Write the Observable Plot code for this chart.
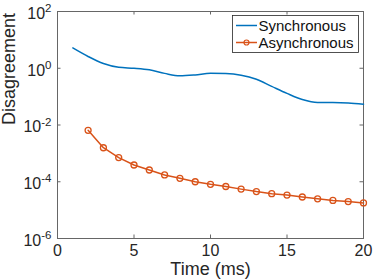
<!DOCTYPE html>
<html>
<head>
<meta charset="utf-8">
<script src="https://cdn.jsdelivr.net/npm/d3@7"></script>
<script src="https://cdn.jsdelivr.net/npm/@observablehq/plot@0.6"></script>
<style>
  html, body { margin: 0; padding: 0; background: #fff; }
  #wrap { position: relative; width: 374px; height: 280px; font-family: "Liberation Sans", Arial, Helvetica, sans-serif; }
  #legend { position: absolute; left: 0; top: 0; }
</style>
</head>
<body>
<div id="wrap"></div>
<script>
// ---- data ----
const timeSync = [1, 2, 3, 4, 5, 6, 7, 8, 9, 10, 11, 12, 13, 14, 15, 16, 17, 18, 19, 20];
const synchronous = [5.2, 2.6, 1.47, 1.08, 1.0, 0.88, 0.66, 0.54, 0.58, 0.66, 0.65, 0.57, 0.41, 0.23, 0.13, 0.079, 0.062, 0.062, 0.06, 0.054];
const timeAsync = [2, 3, 4, 5, 6, 7, 8, 9, 10, 11, 12, 13, 14, 15, 16, 17, 18, 19, 20];
const asynchronous = [6.5e-3, 1.58e-3, 7.1e-4, 3.9e-4, 2.6e-4, 1.74e-4, 1.32e-4, 1.0e-4, 8.1e-5, 6.8e-5, 5.5e-5, 4.5e-5, 3.8e-5, 3.4e-5, 2.9e-5, 2.5e-5, 2.2e-5, 2.0e-5, 1.8e-5];
const xTicks = [0, 5, 10, 15, 20];
const yTicks = [1e-6, 1e-4, 1e-2, 1e0, 1e2];
const seriesNames = ["Synchronous", "Asynchronous"];
const xLabel = "Time (ms)";
const yLabel = "Disagreement";

const syncData = timeSync.map((t, i) => ({t, v: synchronous[i]}));
const asyncData = timeAsync.map((t, i) => ({t, v: asynchronous[i]}));

const W = 374, H = 280;
const mL = 57, mR = 11, mT = 11, mB = 42;
const pw = W - mL - mR, ph = H - mT - mB;
const tick = 3.5;
const axisColor = "#666";
const blue = "#0072BD", orange = "#D95319";

const chart = Plot.plot({
  width: W, height: H,
  marginLeft: mL, marginRight: mR, marginTop: mT, marginBottom: mB,
  style: {fontFamily: '"Liberation Sans", Arial, Helvetica, sans-serif', background: "#fff"},
  x: {domain: [0, 20]},
  y: {type: "log", domain: [1e-6, 1e2]},
  marks: [
    Plot.axisX(xTicks, {tickSize: 0, tickPadding: 6, fontSize: 16, fill: "#262626", label: null, tickFormat: d => String(d)}),
    Plot.axisY(yTicks, {tickSize: 0, tickPadding: 6, fontSize: 16, fill: "#262626", label: null, dy: 2.2,
      tickFormat: d => "10^" + Math.round(Math.log10(d))}),
    // inward ticks
    Plot.ruleX(xTicks, {x: d => d, insetTop: ph - tick, stroke: axisColor}),
    Plot.ruleX(xTicks, {x: d => d, insetBottom: ph - tick, stroke: axisColor}),
    Plot.ruleY(yTicks, {y: d => d, insetRight: pw - tick, stroke: axisColor}),
    Plot.ruleY(yTicks, {y: d => d, insetLeft: pw - tick, stroke: axisColor}),
    Plot.frame({stroke: axisColor, strokeWidth: 1}),
    Plot.line(syncData, {x: "t", y: "v", stroke: blue, strokeWidth: 1.5, curve: "monotone-x"}),
    Plot.line(asyncData, {x: "t", y: "v", stroke: orange, strokeWidth: 1.5}),
    Plot.dot(asyncData, {x: "t", y: "v", r: 3, stroke: orange, strokeWidth: 1.3, fill: "none"}),
    Plot.text([xLabel], {text: d => d, frameAnchor: "bottom", dy: 36.8, lineAnchor: "bottom", fontSize: 18, fill: "#262626"}),
    Plot.text([yLabel], {text: d => d, frameAnchor: "left", dx: -42.5, rotate: -90, lineAnchor: "bottom", fontSize: 18, fill: "#262626"})
  ]
});

// superscript exponents on y tick labels
d3.select(chart).selectAll('g[aria-label="y-axis tick label"] text').each(function() {
  const s = this.textContent;
  const [base, exp] = s.split("^");
  const t = d3.select(this);
  t.text(null);
  t.append("tspan").text(base);
  t.append("tspan").attr("dy", -6.6).attr("font-size", 11.5).text(exp);
});

const wrap = document.getElementById("wrap");
wrap.appendChild(chart);

// legend
const lg = d3.create("svg").attr("id", "legend").attr("width", W).attr("height", H)
  .style("font-family", '"Liberation Sans", Arial, Helvetica, sans-serif');
lg.append("rect").attr("x", 232.5).attr("y", 15.5).attr("width", 126).attr("height", 37)
  .attr("fill", "#fff").attr("stroke", "#262626").attr("stroke-width", 0.8);
const rows = [{name: seriesNames[0], color: blue, marker: false, y: 25.5},
              {name: seriesNames[1], color: orange, marker: true, y: 42.5}];
rows.forEach(r => {
  lg.append("line").attr("x1", 236).attr("x2", 257).attr("y1", r.y).attr("y2", r.y)
    .attr("stroke", r.color).attr("stroke-width", 1.5);
  if (r.marker) lg.append("circle").attr("cx", 246.5).attr("cy", r.y).attr("r", 2.5)
    .attr("fill", "none").attr("stroke", r.color).attr("stroke-width", 1.2);
  lg.append("text").attr("x", 258.5).attr("y", r.y).attr("dy", "0.35em")
    .attr("font-size", 15).attr("fill", "#111").text(r.name);
});
wrap.appendChild(lg.node());
</script>
</body>
</html>
